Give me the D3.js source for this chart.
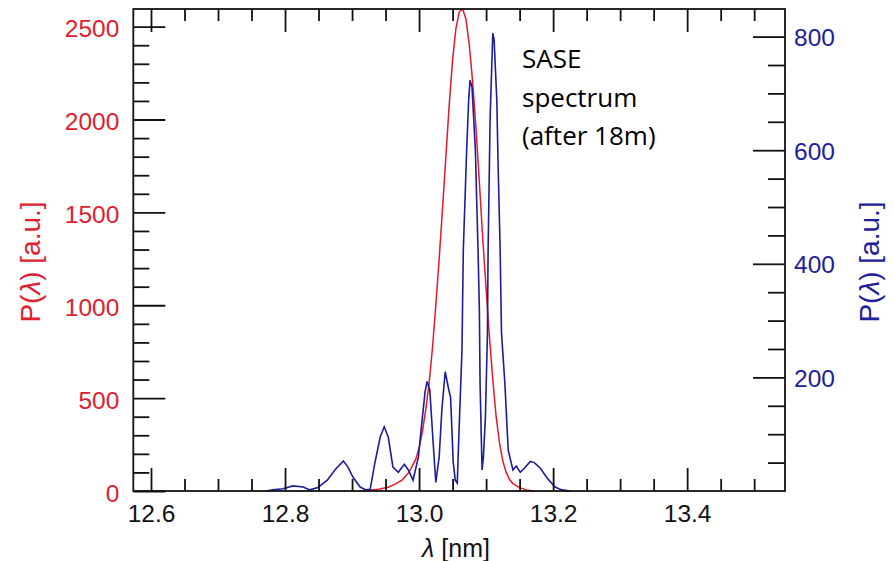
<!DOCTYPE html>
<html><head><meta charset="utf-8">
<script src="https://cdn.jsdelivr.net/npm/d3@7"></script>
<style>body{margin:0;background:#fff}svg{display:block}</style>
</head><body><svg id="c" width="894" height="561"></svg>
<script>
// ---- data ----
const xMajorTicks = [12.6, 12.8, 13.0, 13.2, 13.4];
const xMinorTicks = [12.65, 12.7, 12.75, 12.85, 12.9, 12.95, 13.05, 13.1, 13.15, 13.25, 13.3, 13.35, 13.45, 13.5];
const leftMajorTicks = [0, 500, 1000, 1500, 2000, 2500];
const leftMinorTicks = [100, 200, 300, 400, 600, 700, 800, 900, 1100, 1200, 1300, 1400, 1600, 1700, 1800, 1900, 2100, 2200, 2300, 2400];
const rightMajorTicks = [200, 400, 600, 800];
const rightMinorTicks = [50, 100, 150, 250, 300, 350, 450, 500, 550, 650, 700, 750];

const redLambda = [12.915, 12.925, 12.940, 12.955, 12.965, 12.975, 12.985, 12.995, 13.000, 13.005, 13.010, 13.015, 13.020, 13.025, 13.030, 13.035, 13.040, 13.045, 13.050, 13.055, 13.060, 13.065, 13.070, 13.075, 13.080, 13.085, 13.090, 13.095, 13.100, 13.105, 13.110, 13.115, 13.120, 13.125, 13.130, 13.135, 13.140, 13.150, 13.160, 13.170];
const redPower  = [0, 4, 10, 22, 38, 60, 100, 170, 230, 320, 440, 580, 770, 1000, 1250, 1520, 1800, 2080, 2320, 2490, 2580, 2595, 2540, 2400, 2200, 1950, 1660, 1360, 1090, 830, 600, 400, 260, 160, 100, 62, 40, 18, 6, 0];

const blueLambda = [12.772, 12.782, 12.797, 12.812, 12.827, 12.837, 12.849, 12.863, 12.875, 12.887, 12.894, 12.901, 12.912, 12.921, 12.927, 12.934, 12.942, 12.948, 12.954, 12.961, 12.969, 12.978, 12.984, 12.991, 12.999, 13.004, 13.009, 13.012, 13.016, 13.021, 13.025, 13.030, 13.034, 13.039, 13.044, 13.047, 13.051, 13.054, 13.057, 13.059, 13.064, 13.066, 13.071, 13.074, 13.076, 13.079, 13.084, 13.086, 13.088, 13.090, 13.091, 13.094, 13.096, 13.099, 13.102, 13.103, 13.106, 13.110, 13.112, 13.116, 13.118, 13.121, 13.123, 13.128, 13.133, 13.140, 13.145, 13.151, 13.157, 13.166, 13.172, 13.181, 13.191, 13.203, 13.213, 13.225];
const bluePower  = [0, 2, 4, 9, 7, 2, 6, 19, 38, 53, 42, 25, 7, 2, 3, 49, 95, 113, 95, 42, 33, 47, 37, 19, 60, 119, 175, 193, 178, 85, 15, 60, 143, 210, 180, 165, 50, 19, 14, 85, 248, 424, 600, 688, 723, 711, 600, 512, 424, 317, 190, 37, 60, 130, 277, 424, 656, 806, 794, 688, 570, 424, 278, 190, 72, 37, 44, 33, 40, 52, 50, 40, 23, 7, 2, 0];

// ---- drawing ----
const svg = d3.select('#c');
svg.append('rect').attr('width', 894).attr('height', 561).attr('fill', '#fff');

const pLeft = 133.3, pRight = 785, pTop = 9, pBottom = 491;
const x = d3.scaleLinear().domain([12.5736, 13.546]).range([pLeft, pRight]);
const yL = d3.scaleLinear().domain([0, 2595]).range([pBottom, pTop]);
const yR = d3.scaleLinear().domain([0, 848.6]).range([pBottom, pTop]);

const RED = '#e3192d', BLUE = '#1c1c9c', LRED = '#e0202e', LBLUE = '#20209a';
const FONT = '"Liberation Sans", Arial, Helvetica, sans-serif';

const plot = svg.append('g');
plot.append('path')
  .datum(redLambda.map((l, i) => [l, redPower[i]]))
  .attr('fill', 'none').attr('stroke', RED).attr('stroke-width', 1.5)
  .attr('d', d3.line().x(d => x(d[0])).y(d => yL(d[1])));
plot.append('path')
  .datum(blueLambda.map((l, i) => [l, bluePower[i]]))
  .attr('fill', 'none').attr('stroke', BLUE).attr('stroke-width', 1.6)
  .attr('d', d3.line().x(d => x(d[0])).y(d => yR(d[1])));

function styleAxis(g, color) {
  g.select('.domain').remove();
  g.selectAll('line').attr('stroke', '#111').attr('stroke-width', 1.8);
  g.selectAll('text').attr('fill', color).style('font-family', FONT).style('font-size', '24.5px');
}

// bottom
svg.append('g').attr('transform', `translate(0,${pBottom})`)
  .call(d3.axisBottom(x).tickValues(xMajorTicks).tickSizeInner(-23).tickSizeOuter(0).tickPadding(14).tickFormat(d3.format('.1f')))
  .call(g => styleAxis(g, '#111'));
svg.append('g').attr('transform', `translate(0,${pBottom})`)
  .call(d3.axisBottom(x).tickValues(xMinorTicks).tickSizeInner(-12).tickSizeOuter(0).tickFormat(''))
  .call(g => styleAxis(g, '#111'));
// top
svg.append('g').attr('transform', `translate(0,${pTop})`)
  .call(d3.axisTop(x).tickValues(xMajorTicks).tickSizeInner(-23).tickSizeOuter(0).tickFormat(''))
  .call(g => styleAxis(g, '#111'));
svg.append('g').attr('transform', `translate(0,${pTop})`)
  .call(d3.axisTop(x).tickValues(xMinorTicks).tickSizeInner(-12).tickSizeOuter(0).tickFormat(''))
  .call(g => styleAxis(g, '#111'));
// left
svg.append('g').attr('transform', `translate(${pLeft},0)`)
  .call(d3.axisLeft(yL).tickValues(leftMajorTicks).tickSizeInner(-32).tickSizeOuter(0).tickPadding(14).tickFormat(d3.format('d')))
  .call(g => styleAxis(g, LRED))
  .call(g => g.selectAll('text').attr('dy', '0.42em'));
svg.append('g').attr('transform', `translate(${pLeft},0)`)
  .call(d3.axisLeft(yL).tickValues(leftMinorTicks).tickSizeInner(-16).tickSizeOuter(0).tickFormat(''))
  .call(g => styleAxis(g, LRED));
// right
svg.append('g').attr('transform', `translate(${pRight},0)`)
  .call(d3.axisRight(yR).tickValues(rightMajorTicks).tickSizeInner(-32).tickSizeOuter(0).tickPadding(9).tickFormat(d3.format('d')))
  .call(g => styleAxis(g, LBLUE))
  .call(g => g.selectAll('text').attr('dy', '0.36em'));
svg.append('g').attr('transform', `translate(${pRight},0)`)
  .call(d3.axisRight(yR).tickValues(rightMinorTicks).tickSizeInner(-17).tickSizeOuter(0).tickFormat(''))
  .call(g => styleAxis(g, LBLUE));

// frame
svg.append('rect').attr('x', pLeft).attr('y', pTop).attr('width', pRight - pLeft).attr('height', pBottom - pTop)
  .attr('fill', 'none').attr('stroke', '#111').attr('stroke-width', 1.8);

// axis titles
function pTitle(xc, yc, color) {
  const t = svg.append('text').attr('transform', `translate(${xc},${yc}) rotate(-90)`)
    .attr('text-anchor', 'middle').attr('fill', color)
    .style('font-family', FONT).style('font-size', '28px');
  t.append('tspan').text('P(');
  t.append('tspan').style('font-style', 'italic').text('λ');
  t.append('tspan').text(') [a.u.]');
}
pTitle(40, 262, LRED);
pTitle(879, 262, LBLUE);

const xt = svg.append('text').attr('x', 456).attr('y', 557).attr('text-anchor', 'middle')
  .attr('fill', '#111').style('font-family', FONT).style('font-size', '25px');
xt.append('tspan').style('font-style', 'italic').text('λ');
xt.append('tspan').text(' [nm]');

// annotation
const noteLines = ['SASE', 'spectrum', '(after 18m)'];
svg.append('g').selectAll('text').data(noteLines).join('text')
  .attr('x', 522).attr('y', (d, i) => 68 + i * 38.5)
  .attr('fill', '#000').style('font-family', '"Open Sans", sans-serif').style('font-size', '26px')
  .text(d => d);
</script></body></html>
